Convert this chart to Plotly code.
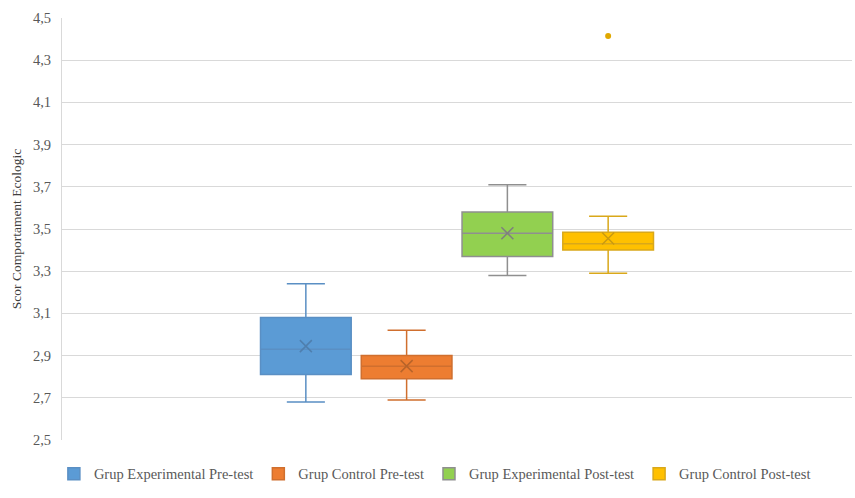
import plotly.graph_objects as go

# Data
groups = ["Grup Experimental Pre-test", "Grup Control Pre-test",
          "Grup Experimental Post-test", "Grup Control Post-test"]
positions = [1, 2, 3, 4]
lower_whisker = [2.68, 2.69, 3.28, 3.29]
q1_vals = [2.81, 2.79, 3.37, 3.40]
median_vals = [2.93, 2.85, 3.48, 3.43]
q3_vals = [3.08, 2.90, 3.58, 3.485]
upper_whisker = [3.24, 3.02, 3.71, 3.56]
mean_vals = [2.945, 2.85, 3.48, 3.455]
outlier_group = [4]
outlier_vals = [4.415]

fill_colors = ["#5B9BD5", "#ED7D31", "#92D050", "#FFC000"]
line_colors = ["#5A8FC4", "#D06F2E", "#8F8F8F", "#D9A81A"]
mean_colors = ["#4F7FAE", "#B8642A", "#7F7F7F", "#C99A10"]
outlier_color = "#E0A800"

fig = go.Figure()
for i, g in enumerate(groups):
    fig.add_trace(go.Box(
        name=g,
        x=[positions[i]],
        q1=[q1_vals[i]], median=[median_vals[i]], q3=[q3_vals[i]],
        lowerfence=[lower_whisker[i]], upperfence=[upper_whisker[i]],
        width=0.9,
        fillcolor=fill_colors[i],
        line=dict(color=line_colors[i], width=1.5),
        whiskerwidth=0.42,
        hoverinfo="skip",
        showlegend=True,
    ))
    fig.add_trace(go.Scatter(
        x=[positions[i]], y=[mean_vals[i]], mode="markers",
        marker=dict(symbol="x-thin", size=12,
                    line=dict(color=mean_colors[i], width=1.5)),
        showlegend=False, hoverinfo="skip",
    ))

fig.add_trace(go.Scatter(
    x=outlier_group, y=outlier_vals, mode="markers",
    marker=dict(symbol="circle", size=6, color=outlier_color),
    showlegend=False, hoverinfo="skip",
))

fig.update_layout(
    width=855, height=498,
    margin=dict(l=62, r=3, t=18, b=58, autoexpand=False),
    plot_bgcolor="white", paper_bgcolor="white",
    separators=",.",
    font=dict(family="Liberation Serif", size=14.5, color="#595959"),
    xaxis=dict(range=[-1.42, 6.42], showticklabels=False, showgrid=False,
               zeroline=False, showline=False, ticks="", automargin=False),
    yaxis=dict(range=[2.5, 4.5], dtick=0.2, tick0=2.5, tickformat=".1f",
               showgrid=True, gridcolor="#D9D9D9", gridwidth=1,
               zeroline=False, showline=True, linecolor="#D9D9D9",
               ticks="", ticklabelstandoff=7, automargin=False,
               tickfont=dict(size=14.5, color="#595959"),
               title=dict(text="Scor Comportament Ecologic",
                          font=dict(size=13.5, color="#404040"), standoff=8)),
    legend=dict(orientation="h", x=0.472, xanchor="center", y=-0.08,
                yanchor="middle", font=dict(size=14.5, color="#595959"),
                itemwidth=30),
    showlegend=True,
)

fig.write_html("out.html", config={"displayModeBar": False},
               post_script="document.body.style.margin='0';")
